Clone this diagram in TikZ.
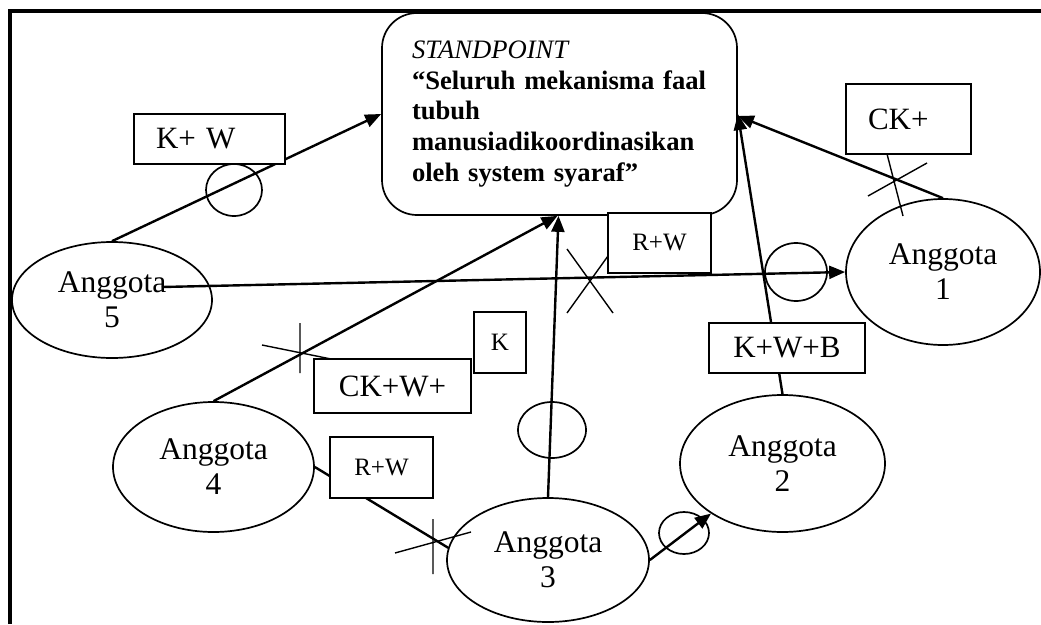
\documentclass[tikz,border=0pt]{standalone}
\usepackage{fontspec}
\setmainfont{Liberation Serif}
\usetikzlibrary{shapes.geometric,arrows.meta}

\tikzset{
  member/.style={draw, ellipse, line width=1.7pt, inner sep=0pt, align=center,
    font=\fontsize{31.5}{35}\selectfont},
  tagbox/.style={draw, fill=white, line width=1.7pt, inner sep=0pt, align=center,
    font=\fontsize{31}{34}\selectfont},
  smalltag/.style={tagbox, font=\fontsize{25}{28}\selectfont},
  arrowlink/.style={line width=2.4pt, -{Triangle[length=16pt,width=13pt]}},
  plainlink/.style={line width=2.4pt},
  crossline/.style={line width=1.4pt},
  ring/.style={line width=1.7pt}
}

\begin{document}
\begin{tikzpicture}[x=1pt,y=-1pt]
  \useasboundingbox (0,0) rectangle (1041,624);

  %Shape: Frame
  \draw [line width=3.3pt] (10,624) -- (10,11) -- (1041,11);

  %Shape: Standpoint box
  \node [draw, line width=1.7pt, rounded corners=35pt, inner ysep=0pt, inner xsep=30pt,
         minimum height=202pt, text width=295pt, align=left,
         font=\fontsize{26.6}{30.7}\selectfont] (sp) at (559.5,114)
    {\textit{STANDPOINT}\\
     \textbf{“Seluruh mekanisma faal}\\
     \textbf{tubuh}\\
     \textbf{manusiadikoordinasikan}\\
     \textbf{oleh system syaraf”}};

  % Members
  \node [member, minimum width=200pt, minimum height=116pt] (a5) at (112,300) {Anggota\\5};
  \node [member, minimum width=194pt, minimum height=146pt] (a1) at (943,272) {Anggota\\1};
  \node [member, minimum width=201pt, minimum height=130pt] (a4) at (213.5,467) {Anggota\\4};
  \node [member, minimum width=202pt, minimum height=124pt] (a3) at (548,560) {Anggota\\3};
  \node [member, minimum width=205pt, minimum height=137pt] (a2) at (782.5,463.5) {Anggota\\2};

  % Connectors
  \coordinate (from5) at (162,287);
  \draw [arrowlink] (a5.north) -- (sp.west);
  \draw [arrowlink] (from5) -- (a1.west);
  \draw [arrowlink] (a4.north) -- ([xshift=-2pt]sp.south);
  \draw [arrowlink] (a3.north) -- ([xshift=-1pt]sp.south);
  \draw [arrowlink] (a2.north) -- (sp.east);
  \draw [arrowlink] (a1.north) -- ([yshift=-2pt]sp.east);
  \draw [arrowlink] (a3.east) -- (a2.215);
  \draw [plainlink] (a4.east) -- (a3.173);

  %Shape: Circles
  \draw [ring] (234,190) ellipse [x radius=28, y radius=26];
  \draw [ring] (796,272) ellipse [x radius=31, y radius=29];
  \draw [ring] (552,430) ellipse [x radius=34, y radius=28];
  \draw [ring] (684,533) ellipse [x radius=25, y radius=21];

  %Straight Lines: crosses
  \draw [crossline] (567,249) -- (613,313) (567,313) -- (613,249);
  \draw [crossline] (868,196) -- (927,163) (886,150) -- (903,216);
  \draw [crossline] (300,323) -- (300,373) (262,345) -- (336,360);
  \draw [crossline] (433,519) -- (433,574) (395,553) -- (471,532);

  % Labels
  \node [tagbox, minimum height=50pt, text width=107pt, inner xsep=22pt, align=left] (kw) at (209.5,139) {K+ W};
  \node [tagbox, minimum height=70pt, text width=81pt, inner xsep=22pt, align=left] (ck) at (908.5,119) {CK+};
  \node [smalltag, minimum width=103pt, minimum height=60pt] (rwtop) at (659.5,243) {R+W};
  \node [smalltag, minimum width=52pt, minimum height=61pt] (kk) at (500,342.5) {K};
  \node [tagbox, minimum width=157pt, minimum height=54pt] (ckw) at (392.5,386) {CK+W+};
  \node [smalltag, minimum width=103pt, minimum height=61pt] (rwlow) at (381.5,467.5) {R+W};
  \node [tagbox, minimum width=156pt, minimum height=50pt] (kwb) at (787,348) {K+W+B};
\end{tikzpicture}
\end{document}
